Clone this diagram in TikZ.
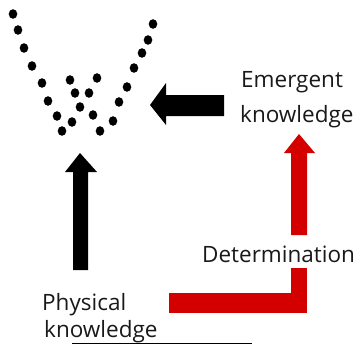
\documentclass[tikz,border=0pt]{standalone}
\usepackage{fontspec}
\setmainfont{Open Sans}
\definecolor{arrred}{RGB}{212,0,0}
\begin{document}
\begin{tikzpicture}[x=1pt,y=-1pt,
  dot/.style={fill=black},
  lbl/.style={anchor=base west,inner sep=0pt,font=\fontsize{22.5}{26}\selectfont,text=black!90}]
\useasboundingbox (0,0) rectangle (363,345);
% dots
\foreach \x/\y in {13/14,18/30,24/48,32/66,42/83,48/101,57/116,62/131,
  70/80,97/78,75/93,89/93,80/107,93/115,72/122,100/131,
  113/121,119/102,127/87,134/68,142/53,148/40,153/24}
  \fill[dot] (\x,\y) ellipse [x radius=4.3, y radius=4.8];
% labels
\node[lbl] (em1) at (241,87) {Emergent};
\node[lbl] (em2) at (240,122) {knowledge};
\node[lbl] (det) at (202,262) {Determination};
\node[lbl] (ph1) at (42,310) {Physical};
\node[lbl] (ph2) at (44,337) {knowledge};
% black left arrow
\fill (224,95) -- (166,95) -- (166,83) -- (150,105) -- (166,125) -- (166,116) -- (224,116) -- cycle;
% black up arrow
\fill (73,270) -- (73,172) -- (65,172) -- (80,153) -- (97,172) -- (88,172) -- (88,270) -- cycle;
% red arrow
\fill[arrred] (169,293) rectangle (307,313);
\fill[arrred] (291,268) rectangle (307,313);
\fill[arrred] (291,235) -- (291,153) -- (284,153) -- (299,134) -- (315,153) -- (307,153) -- (307,235) -- cycle;
% underline
\draw[line width=1pt] (72,343) -- (252,343);
\end{tikzpicture}
\end{document}
